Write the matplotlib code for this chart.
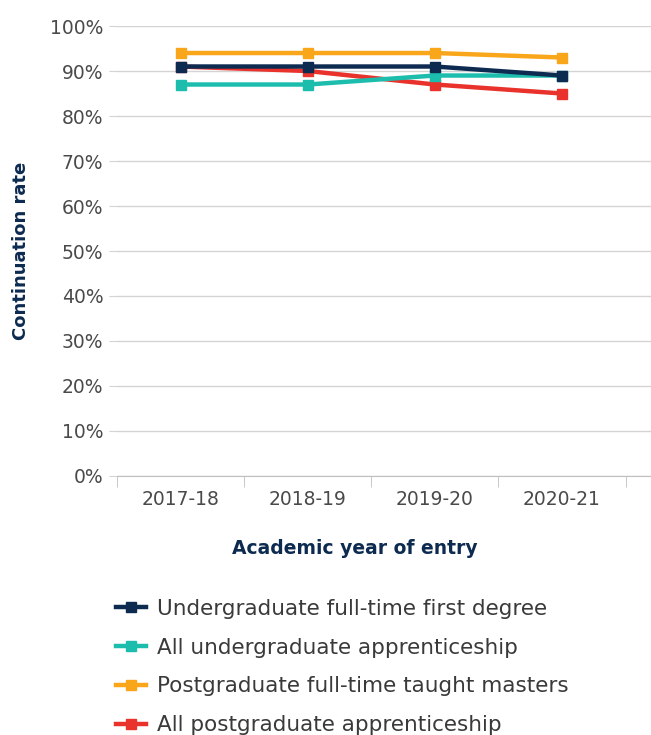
import matplotlib.pyplot as plt
from matplotlib.ticker import FixedLocator, FuncFormatter

# data
years = ["2017-18", "2018-19", "2019-20", "2020-21"]
ug_full_time = [91, 91, 91, 89]
ug_apprentice = [87, 87, 89, 89]
pg_taught = [94, 94, 94, 93]
pg_apprentice = [91, 90, 87, 85]

series_names = [
    "Undergraduate full-time first degree",
    "All undergraduate apprenticeship",
    "Postgraduate full-time taught masters",
    "All postgraduate apprenticeship",
]
colours = ["#0d2b50", "#1dbdae", "#f9a61b", "#e8322b"]
layers = [6, 4, 5, 3]  # navy sits on top of red in the original
navy = "#0d2b50"

plt.rcParams['font.family'] = ['DejaVu Sans']

fig = plt.figure(figsize=(6.51, 7.35), dpi=100)
ax = fig.add_axes([0.18, 0.3524, 0.82, 0.6122])

x = list(range(len(years)))
for vals, name, col, z in zip([ug_full_time, ug_apprentice, pg_taught, pg_apprentice],
                              series_names, colours, layers):
    ax.plot(x, vals, color=col, lw=3.2, marker="s", ms=7, label=name, zorder=z)

ax.set_ylim(0, 100)
ax.set_xlim(-0.5, 3.7)
ax.set_yticks(range(0, 101, 10))
ax.yaxis.set_major_formatter(FuncFormatter(lambda v, p: f"{int(v)}%"))
ax.set_xticks(x)
ax.set_xticklabels(years)
ax.xaxis.set_minor_locator(FixedLocator([-0.5, 0.5, 1.5, 2.5, 3.5]))

ax.grid(axis="y", color="#d4d4d4", lw=1)
ax.set_axisbelow(True)
for s in ["top", "right", "left"]:
    ax.spines[s].set_visible(False)
ax.spines["bottom"].set_color("#bfbfbf")

ax.tick_params(axis="y", length=6, color="#d4d4d4", labelsize=13.5,
               labelcolor="#4a4a4a", pad=4)
ax.tick_params(axis="x", which="major", length=0, labelsize=13.5,
               labelcolor="#4a4a4a", pad=10)
ax.tick_params(axis="x", which="minor", length=8, color="#bfbfbf")

ax.set_ylabel("Continuation rate", fontsize=13, fontweight="bold",
              color=navy, labelpad=14)
fig.text(355 / 651, 1 - 549 / 735, "Academic year of entry", fontsize=13.5,
         fontweight="bold", color=navy, ha="center", va="center")

handles, labels = ax.get_legend_handles_labels()
fig.legend(handles, labels, loc="upper left", bbox_to_anchor=(0.165, 1 - 590 / 735),
           frameon=False, fontsize=15.5, handlelength=1.4, handletextpad=0.5,
           labelspacing=0.88, labelcolor="#3a3a3a", borderaxespad=0)

fig.savefig("out.png", dpi=100)
